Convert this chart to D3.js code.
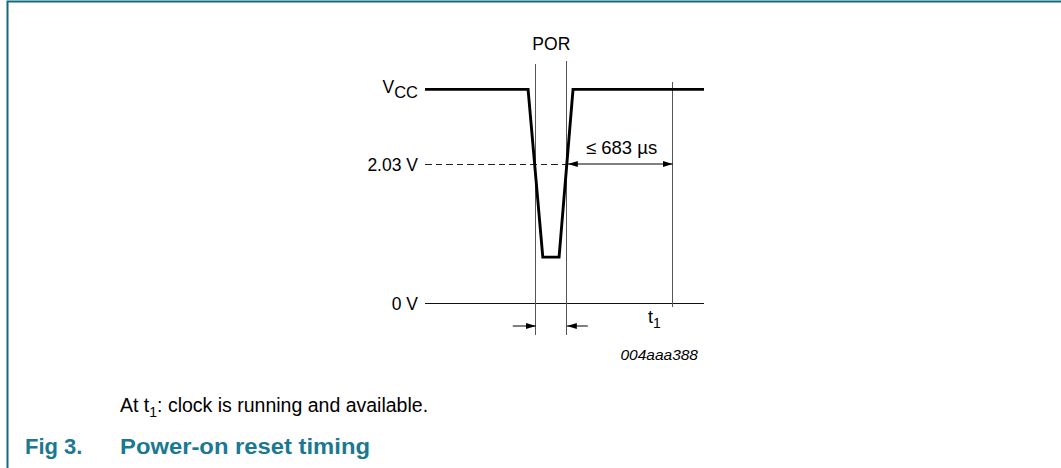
<!DOCTYPE html>
<html>
<head>
<meta charset="utf-8">
<script src="https://cdn.jsdelivr.net/npm/d3@7"></script>
<style>
  body { margin: 0; background: #fff; }
  text { font-family: "Liberation Sans", Arial, sans-serif; }
  .thin { shape-rendering: crispEdges; }
</style>
</head>
<body>
<div id="chart"></div>
<script>
// time in µs relative to end of POR (rising edge crosses 2.03 V), voltage in V
const waveTime = [-915, -250, -155, -50, 40, 885];
const waveVolt = [3.12, 3.12, 0.67, 0.67, 3.12, 3.12];
const levelValues = [0, 2.03, 3.12];
const levelLabels = ['0 V', '2.03 V', 'VCC'];
const porStart = -200;
const porEnd = 0;
const t1Time = 683;
const delayLabel = '\u2264 683 \u00b5s';

const W = 1061, H = 468;
const teal = '#1b7891';

const svg = d3.select('#chart').append('svg').attr('width', W).attr('height', H);

// figure frame
svg.append('path')
    .attr('d', `M7.5,${H} V1.5 H${W}`)
    .attr('fill', 'none')
    .attr('stroke', '#16687e')
    .attr('stroke-width', 2);

const x = d3.scaleLinear().domain([-915, 885]).range([425, 704]);
const y = d3.scaleLinear().domain([0, 2.03]).range([303, 164]);

const defs = svg.append('defs');
defs.append('marker')
    .attr('id', 'head')
    .attr('viewBox', '0 -5 10 10')
    .attr('refX', 10).attr('refY', 0)
    .attr('markerWidth', 10).attr('markerHeight', 10)
    .attr('markerUnits', 'userSpaceOnUse')
    .attr('orient', 'auto-start-reverse')
    .append('path').attr('d', 'M0,-3L10,0L0,3Z').attr('fill', '#000');

const g = svg.append('g');

// 0 V baseline
g.append('line').attr('class', 'thin')
    .attr('x1', x(-915)).attr('x2', x(885))
    .attr('y1', y(0)).attr('y2', y(0))
    .attr('stroke', '#111').attr('stroke-width', 1);

// 2.03 V dashed threshold
g.append('line').attr('class', 'thin')
    .attr('x1', x(-915)).attr('x2', x(porEnd))
    .attr('y1', y(2.03)).attr('y2', y(2.03))
    .attr('stroke', '#222').attr('stroke-width', 1)
    .attr('stroke-dasharray', '6.5,4');

// POR window lines and t1 line
g.append('line').attr('class', 'thin').attr('x1', x(porStart)).attr('x2', x(porStart)).attr('y1', 64).attr('y2', 335)
    .attr('stroke', '#555').attr('stroke-width', 1);
g.append('line').attr('class', 'thin').attr('x1', x(porEnd)).attr('x2', x(porEnd)).attr('y1', 61).attr('y2', 335)
    .attr('stroke', '#555').attr('stroke-width', 1);
g.append('line').attr('class', 'thin').attr('x1', x(t1Time)).attr('x2', x(t1Time)).attr('y1', 82).attr('y2', 307)
    .attr('stroke', '#555').attr('stroke-width', 1);

// waveform
const wave = waveTime.map((t, i) => [t, waveVolt[i]]);
g.append('path')
    .datum(wave)
    .attr('d', d3.line().x(d => x(d[0])).y(d => y(d[1])))
    .attr('fill', 'none')
    .attr('stroke', '#000')
    .attr('stroke-width', 2.9)
    .attr('stroke-linejoin', 'miter');

// ≤ 683 µs dimension arrow
g.append('line')
    .attr('x1', x(porEnd) + 1).attr('x2', x(t1Time))
    .attr('y1', y(2.03)).attr('y2', y(2.03))
    .attr('stroke', '#000').attr('stroke-width', 1)
    .attr('marker-start', 'url(#head)').attr('marker-end', 'url(#head)');
g.append('text')
    .attr('x', 586).attr('y', 154)
    .attr('font-size', 18.5)
    .text(delayLabel);

// POR width arrows
g.append('line')
    .attr('x1', x(porStart) - 23).attr('x2', x(porStart))
    .attr('y1', 326).attr('y2', 326)
    .attr('stroke', '#000').attr('stroke-width', 1)
    .attr('marker-end', 'url(#head)');
g.append('line')
    .attr('x1', x(porEnd) + 21).attr('x2', x(porEnd))
    .attr('y1', 326).attr('y2', 326)
    .attr('stroke', '#000').attr('stroke-width', 1)
    .attr('marker-end', 'url(#head)');

g.append('text')
    .attr('x', (x(porStart) + x(porEnd)) / 2).attr('y', 50)
    .attr('text-anchor', 'middle').attr('font-size', 17.5)
    .text('POR');

// level labels
levelValues.forEach((v, i) => {
    const t = g.append('text')
        .attr('x', 418).attr('y', y(v) + 7)
        .attr('text-anchor', 'end').attr('font-size', 17.5);
    if (levelLabels[i] === 'VCC') {
        t.attr('y', y(v) + 4);
        t.append('tspan').text('V');
        t.append('tspan').attr('dy', 5).attr('font-size', 16.5).text('CC');
    } else {
        t.text(levelLabels[i]);
    }
});

// t1 label
const t1Label = g.append('text').attr('x', 648).attr('y', 323).attr('font-size', 18);
t1Label.append('tspan').text('t');
t1Label.append('tspan').attr('dy', 5).attr('font-size', 14).text('1');

g.append('text')
    .attr('x', 698).attr('y', 360)
    .attr('text-anchor', 'end').attr('font-size', 15.5)
    .attr('font-style', 'italic')
    .text('004aaa388');

// caption note
const note = svg.append('text').attr('x', 120).attr('y', 412).attr('font-size', 19.5);
note.append('tspan').text('At t');
note.append('tspan').attr('dy', 5).attr('font-size', 14).text('1');
note.append('tspan').attr('dy', -5).text(': clock is running and available.');

// figure title
svg.append('text')
    .attr('x', 25).attr('y', 454)
    .attr('font-size', 22).attr('font-weight', 'bold').attr('fill', teal)
    .text('Fig 3.');
svg.append('text')
    .attr('x', 120).attr('y', 454)
    .attr('font-size', 22).attr('font-weight', 'bold').attr('fill', teal)
    .attr('textLength', 250).attr('lengthAdjust', 'spacingAndGlyphs')
    .text('Power-on reset timing');
</script>
</body>
</html>
